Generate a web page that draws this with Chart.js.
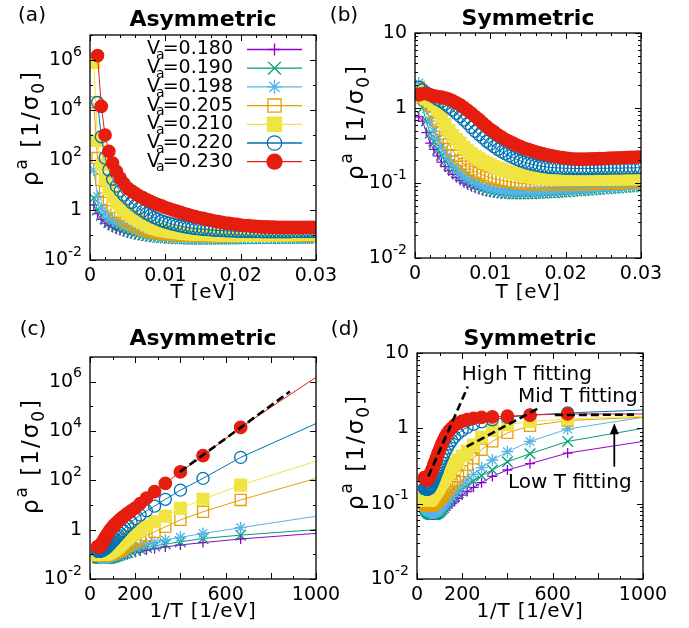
<!DOCTYPE html>
<html>
<head>
<meta charset="utf-8">
<script src="https://cdn.jsdelivr.net/npm/chart.js@4.4.1/dist/chart.umd.min.js"></script>
<style>
  html, body { margin: 0; padding: 0; background: #fff; }
  #page { position: relative; width: 689px; height: 628px; background: #fff; }
  #page canvas { position: absolute; left: 0; top: 0; }
</style>
</head>
<body>
<div id="page">
  <canvas id="panelA" width="689" height="628"></canvas>
  <canvas id="panelB" width="689" height="628"></canvas>
  <canvas id="panelC" width="689" height="628"></canvas>
  <canvas id="panelD" width="689" height="628"></canvas>
</div>
<script>
// Temperature grid [eV]
const T_EV = [
  0.0005, 0.001, 0.0015, 0.002, 0.0025, 0.003, 0.0035, 0.004, 0.0045, 0.005,
  0.0055, 0.006, 0.0065, 0.007, 0.0075, 0.008, 0.0085, 0.009, 0.0095, 0.01,
  0.0105, 0.011, 0.0115, 0.012, 0.0125, 0.013, 0.0135, 0.014, 0.0145, 0.015,
  0.0155, 0.016, 0.0165, 0.017, 0.0175, 0.018, 0.0185, 0.019, 0.0195, 0.02,
  0.0205, 0.021, 0.0215, 0.022, 0.0225, 0.023, 0.0235, 0.024, 0.0245, 0.025,
  0.0255, 0.026, 0.0265, 0.027, 0.0275, 0.028, 0.0285, 0.029, 0.0295, 0.03
];

const VA_LABELS = ['0.180', '0.190', '0.198', '0.205', '0.210', '0.220', '0.230'];

// Asymmetric resistivity [1/sigma0]
const ASYM_180 = [
  1.6, 0.71, 0.42, 0.3, 0.24, 0.2, 0.17, 0.15, 0.135, 0.122,
  0.112, 0.104, 0.097, 0.092, 0.087, 0.083, 0.08, 0.077, 0.075, 0.073,
  0.072, 0.071, 0.07, 0.069, 0.068, 0.068, 0.067, 0.067, 0.067, 0.067,
  0.067, 0.067, 0.067, 0.068, 0.068, 0.068, 0.068, 0.069, 0.069, 0.069,
  0.069, 0.07, 0.07, 0.07, 0.07, 0.071, 0.071, 0.071, 0.071, 0.072,
  0.072, 0.072, 0.072, 0.073, 0.073, 0.073, 0.073, 0.074, 0.074, 0.074
];
const ASYM_190 = [
  3.0, 1.0, 0.6, 0.44, 0.32, 0.26, 0.22, 0.19, 0.165, 0.145,
  0.13, 0.118, 0.108, 0.1, 0.094, 0.089, 0.085, 0.081, 0.078, 0.076,
  0.074, 0.072, 0.071, 0.07, 0.069, 0.069, 0.068, 0.068, 0.068, 0.068,
  0.068, 0.068, 0.069, 0.069, 0.069, 0.069, 0.07, 0.07, 0.07, 0.07,
  0.071, 0.071, 0.071, 0.071, 0.072, 0.072, 0.072, 0.072, 0.073, 0.073,
  0.073, 0.073, 0.074, 0.074, 0.074, 0.074, 0.075, 0.075, 0.075, 0.075
];
const ASYM_198 = [
  40, 3.5, 1.2, 0.7, 0.49, 0.38, 0.3, 0.26, 0.22, 0.19,
  0.165, 0.145, 0.13, 0.118, 0.108, 0.1, 0.094, 0.089, 0.085, 0.082,
  0.079, 0.077, 0.076, 0.075, 0.074, 0.073, 0.073, 0.072, 0.072, 0.072,
  0.072, 0.072, 0.073, 0.073, 0.073, 0.073, 0.074, 0.074, 0.074, 0.074,
  0.075, 0.075, 0.075, 0.075, 0.076, 0.076, 0.076, 0.076, 0.077, 0.077,
  0.077, 0.077, 0.077, 0.078, 0.078, 0.078, 0.078, 0.078, 0.079, 0.079
];
const ASYM_205 = [
  2e4, 120, 16, 5.3, 2.5, 1.3, 0.82, 0.6, 0.42, 0.32,
  0.26, 0.22, 0.19, 0.165, 0.15, 0.138, 0.128, 0.12, 0.114, 0.109,
  0.105, 0.102, 0.1, 0.098, 0.096, 0.095, 0.094, 0.093, 0.092, 0.092,
  0.091, 0.091, 0.091, 0.091, 0.091, 0.091, 0.091, 0.091, 0.092, 0.092,
  0.092, 0.092, 0.092, 0.093, 0.093, 0.093, 0.093, 0.093, 0.094, 0.094,
  0.094, 0.094, 0.094, 0.095, 0.095, 0.095, 0.095, 0.095, 0.096, 0.096
];
const ASYM_210 = [
  8e5, 600, 64, 17, 7.3, 3.5, 2.1, 1.4, 1.0, 0.75,
  0.58, 0.46, 0.37, 0.3, 0.25, 0.21, 0.185, 0.17, 0.155, 0.145,
  0.137, 0.13, 0.125, 0.12, 0.116, 0.113, 0.11, 0.108, 0.106, 0.105,
  0.104, 0.103, 0.102, 0.101, 0.1, 0.1, 0.1, 0.1, 0.1, 0.1,
  0.1, 0.1, 0.101, 0.101, 0.101, 0.101, 0.102, 0.102, 0.102, 0.102,
  0.103, 0.103, 0.103, 0.103, 0.104, 0.104, 0.104, 0.104, 0.105, 0.105
];
const ASYM_220 = [
  null, 2e4, 850, 120, 40, 17, 9, 5.8, 3.9, 2.8,
  2.0, 1.5, 1.15, 0.9, 0.72, 0.6, 0.5, 0.43, 0.37, 0.33,
  0.3, 0.27, 0.25, 0.23, 0.215, 0.2, 0.19, 0.18, 0.175, 0.17,
  0.165, 0.16, 0.155, 0.152, 0.15, 0.148, 0.145, 0.143, 0.141, 0.14,
  0.139, 0.138, 0.137, 0.136, 0.136, 0.135, 0.135, 0.135, 0.135, 0.135,
  0.135, 0.135, 0.135, 0.136, 0.136, 0.136, 0.137, 0.137, 0.137, 0.138
];
const ASYM_230 = [
  null, 1.5e6, 1.4e4, 1.0e3, 220, 75, 35, 19, 11.5, 7.5,
  5.8, 4.6, 3.7, 3.1, 2.6, 2.2, 1.9, 1.65, 1.45, 1.26,
  1.12, 1.0, 0.9, 0.8, 0.71, 0.65, 0.59, 0.54, 0.49, 0.46,
  0.42, 0.39, 0.36, 0.34, 0.32, 0.3, 0.29, 0.275, 0.265, 0.25,
  0.24, 0.235, 0.225, 0.22, 0.215, 0.21, 0.21, 0.205, 0.205, 0.2,
  0.2, 0.2, 0.2, 0.2, 0.2, 0.2, 0.2, 0.2, 0.2, 0.2
];

// Symmetric resistivity [1/sigma0]
const SYM_180 = [
  0.76, 0.67, 0.47, 0.34, 0.28, 0.23, 0.19, 0.165, 0.145, 0.13,
  0.118, 0.108, 0.1, 0.094, 0.089, 0.085, 0.082, 0.079, 0.077, 0.075,
  0.074, 0.073, 0.072, 0.072, 0.071, 0.071, 0.071, 0.071, 0.071, 0.071,
  0.071, 0.072, 0.072, 0.072, 0.073, 0.073, 0.074, 0.074, 0.075, 0.075,
  0.076, 0.077, 0.077, 0.078, 0.079, 0.079, 0.08, 0.081, 0.082, 0.082,
  0.083, 0.084, 0.085, 0.085, 0.086, 0.087, 0.088, 0.089, 0.089, 0.09
];
const SYM_190 = [
  1.8, 1.0, 0.67, 0.46, 0.36, 0.28, 0.235, 0.2, 0.175, 0.155,
  0.14, 0.127, 0.117, 0.108, 0.1, 0.094, 0.089, 0.085, 0.082, 0.079,
  0.077, 0.075, 0.074, 0.073, 0.073, 0.072, 0.072, 0.072, 0.072, 0.072,
  0.072, 0.073, 0.073, 0.073, 0.074, 0.074, 0.075, 0.075, 0.076, 0.076,
  0.077, 0.078, 0.078, 0.079, 0.08, 0.08, 0.081, 0.082, 0.083, 0.083,
  0.084, 0.085, 0.086, 0.086, 0.087, 0.088, 0.089, 0.09, 0.09, 0.091
];
const SYM_198 = [
  2.15, 1.4, 0.98, 0.67, 0.49, 0.38, 0.3, 0.245, 0.205, 0.175,
  0.155, 0.138, 0.125, 0.114, 0.106, 0.099, 0.094, 0.089, 0.086, 0.083,
  0.081, 0.079, 0.078, 0.077, 0.076, 0.076, 0.075, 0.075, 0.075, 0.075,
  0.075, 0.076, 0.076, 0.076, 0.077, 0.077, 0.078, 0.078, 0.079, 0.079,
  0.08, 0.08, 0.081, 0.081, 0.082, 0.083, 0.083, 0.084, 0.084, 0.085,
  0.086, 0.086, 0.087, 0.087, 0.088, 0.089, 0.089, 0.09, 0.09, 0.091
];
const SYM_205 = [
  1.9, 1.4, 1.27, 1.08, 0.87, 0.67, 0.52, 0.4, 0.33, 0.27,
  0.23, 0.2, 0.18, 0.165, 0.152, 0.142, 0.135, 0.128, 0.122, 0.118,
  0.114, 0.111, 0.108, 0.106, 0.104, 0.102, 0.1, 0.099, 0.098, 0.097,
  0.096, 0.096, 0.096, 0.095, 0.095, 0.095, 0.095, 0.095, 0.095, 0.095,
  0.095, 0.096, 0.096, 0.096, 0.097, 0.097, 0.097, 0.098, 0.098, 0.098,
  0.099, 0.099, 0.099, 0.1, 0.1, 0.1, 0.101, 0.101, 0.102, 0.102
];
const SYM_210 = [
  1.7, 1.45, 1.33, 1.23, 1.12, 0.96, 0.76, 0.6, 0.5, 0.43,
  0.38, 0.34, 0.3, 0.27, 0.245, 0.225, 0.21, 0.195, 0.185, 0.175,
  0.165, 0.157, 0.15, 0.145, 0.14, 0.135, 0.131, 0.128, 0.125, 0.122,
  0.12, 0.118, 0.116, 0.115, 0.114, 0.113, 0.112, 0.112, 0.111, 0.111,
  0.111, 0.111, 0.111, 0.111, 0.111, 0.111, 0.112, 0.112, 0.112, 0.112,
  0.112, 0.113, 0.113, 0.113, 0.113, 0.114, 0.114, 0.114, 0.115, 0.115
];
const SYM_220 = [
  1.9, 1.75, 1.6, 1.5, 1.4, 1.3, 1.22, 1.13, 1.03, 0.94,
  0.85, 0.77, 0.69, 0.62, 0.55, 0.49, 0.44, 0.4, 0.36, 0.33,
  0.305, 0.28, 0.26, 0.245, 0.23, 0.218, 0.207, 0.198, 0.19, 0.183,
  0.178, 0.173, 0.169, 0.166, 0.163, 0.161, 0.16, 0.159, 0.158, 0.157,
  0.157, 0.156, 0.156, 0.156, 0.156, 0.156, 0.156, 0.157, 0.157, 0.157,
  0.157, 0.158, 0.158, 0.158, 0.158, 0.159, 0.159, 0.159, 0.16, 0.16
];
const SYM_230 = [
  1.5, 1.55, 1.55, 1.5, 1.45, 1.42, 1.4, 1.36, 1.31, 1.25,
  1.17, 1.1, 1.01, 0.93, 0.85, 0.77, 0.7, 0.63, 0.57, 0.52,
  0.48, 0.44, 0.41, 0.38, 0.36, 0.34, 0.32, 0.305, 0.29, 0.28,
  0.27, 0.26, 0.252, 0.245, 0.238, 0.232, 0.227, 0.222, 0.218, 0.214,
  0.211, 0.209, 0.208, 0.208, 0.208, 0.209, 0.21, 0.21, 0.211, 0.212,
  0.213, 0.214, 0.215, 0.216, 0.217, 0.218, 0.219, 0.22, 0.221, 0.222
];

// Exponential fits (x = 1/T [1/eV], y = rho)
const ASYM_FIT_X = [398, 885];
const ASYM_FIT_Y = [220, 4e5];
const HIGH_FIT_X = [50, 225];
const HIGH_FIT_Y = [0.23, 3.6];
const MID_FIT_X = [220, 545];
const MID_FIT_Y = [0.57, 1.9];
const LOW_FIT_X = [610, 960];
const LOW_FIT_Y = [1.5, 1.52];

// Tick labels on the 1/T axis
const X_INV_LABELS = [0, 200, 600, 1000];

const FONT = '"DejaVu Sans", Verdana, sans-serif';

const SERIES_STYLE = [
  { color: '#9400d3', pointStyle: 'cross', radius: 5, filled: false },
  { color: '#009e73', pointStyle: 'crossRot', radius: 7.5, filled: false },
  { color: '#56b4e9', pointStyle: 'star', radius: 6, filled: false },
  { color: '#e69f00', pointStyle: 'rect', radius: 7.8, filled: false },
  { color: '#f0e442', pointStyle: 'rect', radius: 8.3, filled: true },
  { color: '#0072b2', pointStyle: 'circle', radius: 6, filled: false },
  { color: '#e51e10', pointStyle: 'circle', radius: 6.2, filled: true }
];

const ASYM = [ASYM_180, ASYM_190, ASYM_198, ASYM_205, ASYM_210, ASYM_220, ASYM_230];
const SYM = [SYM_180, SYM_190, SYM_198, SYM_205, SYM_210, SYM_220, SYM_230];

// Draw a run of text pieces with super/subscripts; `spacing` adds room between glyphs,
// `dx` on a piece nudges it sideways before drawing
function drawRich(ctx, parts, x, y, align, size, spacing) {
  const small = Math.round(size * 0.72);
  const gap = spacing || 0;
  const fontOf = p => (p.k ? small : size) + 'px ' + FONT;
  const pieceWidth = p => {
    ctx.font = fontOf(p);
    let w = 0;
    for (const ch of p.t) w += ctx.measureText(ch).width + gap;
    return gap ? w : ctx.measureText(p.t).width;
  };
  let total = 0;
  const widths = parts.map(p => {
    const w = pieceWidth(p) + (p.dx || 0);
    total += w;
    return w;
  });
  let cx = align === 'right' ? x - total : align === 'center' ? x - total / 2 : x;
  ctx.textAlign = 'left';
  ctx.textBaseline = 'middle';
  parts.forEach((p, i) => {
    ctx.font = fontOf(p);
    const dy = p.k === 'sup' ? -size * 0.42 : p.k === 'sub' ? size * 0.32 : 0;
    const start = cx + (p.dx || 0);
    if (gap) {
      let gx = start;
      for (const ch of p.t) {
        ctx.fillText(ch, gx, y + dy);
        gx += ctx.measureText(ch).width + gap;
      }
    } else {
      ctx.fillText(p.t, start, y + dy);
    }
    cx += widths[i];
  });
}

function logLabel(v) {
  const e = Math.round(Math.log10(v));
  if (e === 0) return [{ t: '1' }];
  if (e === 1) return [{ t: '10' }];
  return [{ t: '10' }, { t: String(e), k: 'sup' }];
}

const Y_TITLE = [{ t: 'ρ' }, { t: 'a', k: 'sup' }, { t: ' [1/σ' }, { t: '0', k: 'sub' }, { t: ']' }];

// Log ticks: one per decade, labelled every `every` decades, optional 2..9 minors
function logTicks(lo, hi, every, mantissas) {
  return scale => {
    const ticks = [];
    for (let e = lo; e <= hi; e++) {
      const show = (e - lo) % every === 0;
      ticks.push({ value: Math.pow(10, e), major: show, show: show });
      if (mantissas && e < hi) {
        for (let m = 2; m <= 9; m++) ticks.push({ value: m * Math.pow(10, e), major: false, show: false });
      }
    }
    scale.ticks = ticks;
  };
}

function tempTicks(scale) {
  const ticks = [];
  for (let i = 0; i <= 15; i++) {
    ticks.push({ value: i * 0.002, major: i % 5 === 0, show: i % 5 === 0 });
  }
  scale.ticks = ticks;
}

function invTicks(scale) {
  const ticks = [];
  for (let v = 0; v <= 1000; v += 100) {
    ticks.push({ value: v, major: v % 200 === 0, show: X_INV_LABELS.includes(v) });
  }
  scale.ticks = ticks;
}

// Frame, inward ticks, tick labels and titles for one panel
function panelDecor(cfg) {
  return {
    id: 'panelDecor',
    afterDraw(chart) {
      const { ctx, chartArea: a } = chart;
      const xs = chart.scales.x, ys = chart.scales.y;
      ctx.save();
      ctx.strokeStyle = '#000';
      ctx.fillStyle = '#000';
      ctx.lineWidth = 1;
      ctx.beginPath();
      xs.ticks.forEach(t => {
        const px = Math.round(xs.getPixelForValue(t.value)) + 0.5;
        const len = t.major ? 6 : 3;
        ctx.moveTo(px, a.bottom); ctx.lineTo(px, a.bottom - len);
        ctx.moveTo(px, a.top); ctx.lineTo(px, a.top + len);
      });
      ys.ticks.forEach(t => {
        const py = Math.round(ys.getPixelForValue(t.value)) + 0.5;
        const len = t.major ? 6 : 3;
        ctx.moveTo(a.left, py); ctx.lineTo(a.left + len, py);
        ctx.moveTo(a.right, py); ctx.lineTo(a.right - len, py);
      });
      ctx.stroke();
      ctx.lineWidth = 1.3;
      ctx.strokeRect(a.left, a.top, a.right - a.left, a.bottom - a.top);

      xs.ticks.filter(t => t.show).forEach(t => {
        drawRich(ctx, [{ t: cfg.xFormat(t.value) }], xs.getPixelForValue(t.value), a.bottom + 16, 'center', 19);
      });
      ys.ticks.filter(t => t.show).forEach(t => {
        drawRich(ctx, logLabel(t.value), a.left - 8, ys.getPixelForValue(t.value), 'right', 19);
      });

      const cx = (a.left + a.right) / 2;
      ctx.font = 'bold 22px ' + FONT;
      ctx.textAlign = 'center';
      ctx.textBaseline = 'middle';
      ctx.fillText(cfg.title, cx, cfg.titleY);
      drawRich(ctx, [{ t: cfg.letter }], cfg.letterX, cfg.letterY, 'center', 20);
      drawRich(ctx, cfg.xTitle, cx, cfg.xTitleY, 'center', 20, 0.8);

      ctx.translate(cfg.yTitleX, cfg.yTitleY);
      ctx.rotate(-Math.PI / 2);
      drawRich(ctx, Y_TITLE, 0, 0, 'center', 23, 2);
      ctx.restore();
    }
  };
}

// Key for the asymmetric T panel
const keyPlugin = {
  id: 'seriesKey',
  afterDraw(chart) {
    const ctx = chart.ctx;
    ctx.save();
    SERIES_STYLE.forEach((s, i) => {
      const y = 49.5 + 18.7 * i;
      ctx.fillStyle = '#000';
      drawRich(ctx, [{ t: 'V' }, { t: 'a', k: 'sub', dx: -4 }, { t: '=' + VA_LABELS[i], dx: -2 }], 233, y, 'right', 19);
      ctx.strokeStyle = s.color;
      ctx.lineWidth = 1.3;
      ctx.beginPath();
      ctx.moveTo(247, y);
      ctx.lineTo(302, y);
      ctx.stroke();
      ctx.fillStyle = s.filled ? s.color : 'rgba(0,0,0,0)';
      Chart.helpers.drawPoint(ctx, {
        pointStyle: s.pointStyle, rotation: 0, radius: s.radius * 1.2, borderWidth: 1.3
      }, 274.5, y);
    });
    ctx.restore();
  }
};

// Arrow and captions for the fit lines
const fitNotes = {
  id: 'fitNotes',
  afterDraw(chart) {
    const { ctx } = chart;
    const xs = chart.scales.x, ys = chart.scales.y;
    ctx.save();
    ctx.fillStyle = '#000';
    ctx.strokeStyle = '#000';
    const ax = xs.getPixelForValue(873);
    const y0 = ys.getPixelForValue(0.31);
    const y1 = ys.getPixelForValue(1.17);
    ctx.lineWidth = 1.8;
    ctx.beginPath();
    ctx.moveTo(ax, y0);
    ctx.lineTo(ax, y1 + 8);
    ctx.stroke();
    ctx.beginPath();
    ctx.moveTo(ax, y1);
    ctx.lineTo(ax - 4.5, y1 + 11);
    ctx.lineTo(ax + 4.5, y1 + 11);
    ctx.closePath();
    ctx.fill();
    ctx.font = '20px ' + FONT;
    ctx.textAlign = 'left';
    ctx.textBaseline = 'middle';
    ctx.fillText('High T fitting', xs.getPixelForValue(198), ys.getPixelForValue(5.1));
    ctx.fillText('Mid T fitting', xs.getPixelForValue(447), ys.getPixelForValue(2.6));
    ctx.fillText('Low T fitting', xs.getPixelForValue(403), ys.getPixelForValue(0.19));
    ctx.restore();
  }
};

function seriesDatasets(table, inverse) {
  return table.map((values, i) => {
    const s = SERIES_STYLE[i];
    const ds = {
      label: 'Va=' + VA_LABELS[i],
      data: T_EV.map((t, k) => ({ x: inverse ? 1 / t : t, y: values[k] })),
      borderColor: s.color,
      borderWidth: 1,
      pointStyle: s.pointStyle,
      pointRadius: inverse ? (c => (c.raw && c.raw.x >= 1000 ? 0 : s.radius)) : s.radius,
      pointBorderColor: s.color,
      pointBackgroundColor: s.filled ? s.color : 'rgba(0,0,0,0)',
      pointBorderWidth: 1.3,
      order: table.length - i
    };
    if (inverse) ds.clip = 0;
    return ds;
  });
}

function fitDataset(xs, ys) {
  return {
    data: xs.map((x, i) => ({ x: x, y: ys[i] })),
    borderColor: '#000',
    borderWidth: 2.6,
    borderDash: [8, 4],
    pointRadius: 0,
    order: -1,
    clip: 0
  };
}

function makePanel(id, opts) {
  const xInv = opts.inverse;
  return new Chart(document.getElementById(id), {
    type: 'line',
    data: { datasets: opts.datasets },
    options: {
      responsive: false,
      animation: false,
      devicePixelRatio: 1,
      events: [],
      layout: { padding: opts.padding },
      plugins: { legend: { display: false }, tooltip: { enabled: false } },
      scales: {
        x: {
          type: 'linear',
          display: false,
          min: 0,
          max: xInv ? 1000 : 0.03,
          ticks: { display: false, autoSkip: false },
          afterBuildTicks: xInv ? invTicks : tempTicks
        },
        y: {
          type: 'logarithmic',
          display: false,
          min: opts.yMin,
          max: opts.yMax,
          ticks: { display: false, autoSkip: false },
          afterBuildTicks: opts.yTicks
        }
      }
    },
    plugins: opts.plugins
  });
}

const fmtT = v => (v === 0 ? '0' : v.toFixed(2));
const fmtInv = v => String(v);
const T_TITLE = [{ t: 'T [eV]' }];
const INV_TITLE = [{ t: '1/T [1/eV]' }];

// (a) asymmetric vs T
makePanel('panelA', {
  inverse: false,
  padding: { left: 90, top: 35, right: 373, bottom: 368 },
  yMin: 1e-2, yMax: 1e7, yTicks: logTicks(-2, 7, 2, false),
  datasets: seriesDatasets(ASYM, false),
  plugins: [panelDecor({
    title: 'Asymmetric', titleY: 20, letter: '(a)', letterX: 32, letterY: 16,
    xTitle: T_TITLE, xTitleY: 293, yTitleX: 32, yTitleY: 128, xFormat: fmtT
  }), keyPlugin]
});

// (b) symmetric vs T
makePanel('panelB', {
  inverse: false,
  padding: { left: 415, top: 33, right: 48, bottom: 370 },
  yMin: 1e-2, yMax: 10, yTicks: logTicks(-2, 1, 1, true),
  datasets: seriesDatasets(SYM, false),
  plugins: [panelDecor({
    title: 'Symmetric', titleY: 19, letter: '(b)', letterX: 344, letterY: 16,
    xTitle: T_TITLE, xTitleY: 293, yTitleX: 357, yTitleY: 122, xFormat: fmtT
  })]
});

// (c) asymmetric vs 1/T
makePanel('panelC', {
  inverse: true,
  padding: { left: 90, top: 357, right: 373, bottom: 49 },
  yMin: 1e-2, yMax: 1e7, yTicks: logTicks(-2, 7, 2, false),
  datasets: seriesDatasets(ASYM, true).concat([fitDataset(ASYM_FIT_X, ASYM_FIT_Y)]),
  plugins: [panelDecor({
    title: 'Asymmetric', titleY: 339, letter: '(c)', letterX: 33, letterY: 330,
    xTitle: INV_TITLE, xTitleY: 612, yTitleX: 32, yTitleY: 456, xFormat: fmtInv
  })]
});

// (d) symmetric vs 1/T with the three fitting regimes
makePanel('panelD', {
  inverse: true,
  padding: { left: 417, top: 353, right: 46, bottom: 49 },
  yMin: 1e-2, yMax: 10, yTicks: logTicks(-2, 1, 1, true),
  datasets: seriesDatasets(SYM, true).concat([
    fitDataset(HIGH_FIT_X, HIGH_FIT_Y),
    fitDataset(MID_FIT_X, MID_FIT_Y),
    fitDataset(LOW_FIT_X, LOW_FIT_Y)
  ]),
  plugins: [panelDecor({
    title: 'Symmetric', titleY: 339, letter: '(d)', letterX: 345, letterY: 330,
    xTitle: INV_TITLE, xTitleY: 612, yTitleX: 357, yTitleY: 452, xFormat: fmtInv
  }), fitNotes]
});
</script>
</body>
</html>
